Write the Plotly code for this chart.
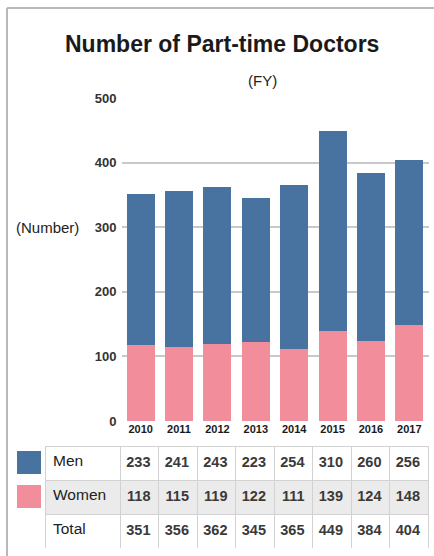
import plotly.graph_objects as go

years = ["2010", "2011", "2012", "2013", "2014", "2015", "2016", "2017"]
men = [233, 241, 243, 223, 254, 310, 260, 256]
women = [118, 115, 119, 122, 111, 139, 124, 148]
total = [351, 356, 362, 345, 365, 449, 384, 404]
row_labels = ["Men", "Women", "Total"]
y_ticks = [0, 100, 200, 300, 400, 500]

BLUE = "#48729F"
PINK = "#F28D9B"
FONT = "Liberation Sans, Arial, sans-serif"
W, H = 434, 556

def px(x):
    return x / W

def py(y):
    return 1 - y / H

fig = go.Figure()
fig.add_trace(go.Bar(x=years, y=women, name="Women", marker=dict(color=PINK, line=dict(width=0))))
fig.add_trace(go.Bar(x=years, y=men, name="Men", marker=dict(color=BLUE, line=dict(width=0))))

# table: first row (Men) rendered as the table header, the rest as cells
ncol = len(years) + 1
header_vals = [row_labels[0]] + [f"<b>{m}</b>" for m in men]
cell_vals = [row_labels[1:]] + [[f"<b>{w}</b>", f"<b>{t}</b>"] for w, t in zip(women, total)]
aligns = ["left"] + ["right"] * len(years)
fonts = dict(family=FONT, size=[15.5] + [14.5] * len(years), color=["#222"] + ["#3a3a3a"] * len(years))
line = dict(color="#d2d2d2", width=1)
fig.add_trace(go.Table(
    domain=dict(x=[px(45), px(428)], y=[py(549), py(446)]),
    columnwidth=[75] + [38.5] * len(years),
    header=dict(values=header_vals, height=34, align=aligns, fill=dict(color="white"),
                line=line, font=fonts),
    cells=dict(values=cell_vals, height=34, align=aligns,
               fill=dict(color=[["#ebebeb", "white"]] * ncol),
               line=line, font=fonts),
))

fig.update_layout(
    template="none",
    width=W, height=H,
    margin=dict(l=0, r=0, t=0, b=0, pad=0),
    paper_bgcolor="white", plot_bgcolor="white",
    barmode="stack", bargap=0.27, showlegend=False,
    font=dict(family=FONT, color="#222"),
    xaxis=dict(
        type="category", domain=[px(121.5), px(428.5)], automargin=False,
        tickfont=dict(size=11, weight="bold", color="#1a1a1a"),
        showgrid=False, zeroline=False, showline=False, ticks="",
    ),
    yaxis=dict(
        domain=[py(421), py(98)], range=[0, 500], tickvals=y_ticks, automargin=False,
        tickfont=dict(size=13, weight="bold", color="#333"),
        showgrid=True, gridcolor="#c9c9c9", gridwidth=2,
        zeroline=True, zerolinecolor="white", zerolinewidth=2,
        showline=False, ticks="", ticklabelstandoff=4,
    ),
    shapes=[
        dict(type="line", xref="paper", yref="paper", x0=px(7), x1=px(7), y0=py(8), y1=0,
             line=dict(color="#b9b9b9", width=2)),
        dict(type="line", xref="paper", yref="paper", x0=px(7), x1=1, y0=py(8), y1=py(8),
             line=dict(color="#b9b9b9", width=2)),
        dict(type="rect", xref="paper", yref="paper", x0=px(17), x1=px(41), y0=py(474), y1=py(451),
             fillcolor=BLUE, line=dict(width=0)),
        dict(type="rect", xref="paper", yref="paper", x0=px(17), x1=px(41), y0=py(508), y1=py(485),
             fillcolor=PINK, line=dict(width=0)),
    ],
    annotations=[
        dict(text="<b>Number of Part-time Doctors</b>", xref="paper", yref="paper",
             x=px(222), y=py(44), xanchor="center", yanchor="middle", showarrow=False,
             font=dict(size=23, color="#1a1a1a")),
        dict(text="(FY)", xref="paper", yref="paper", x=px(262), y=py(80),
             xanchor="center", yanchor="middle", showarrow=False,
             font=dict(size=15, color="#222")),
        dict(text="(Number)", xref="paper", yref="paper", x=px(47), y=py(227),
             xanchor="center", yanchor="middle", showarrow=False,
             font=dict(size=15, color="#222")),
    ],
)

fig.write_html("out.html", config={"displayModeBar": False},
               post_script="document.body.style.margin='0';")
